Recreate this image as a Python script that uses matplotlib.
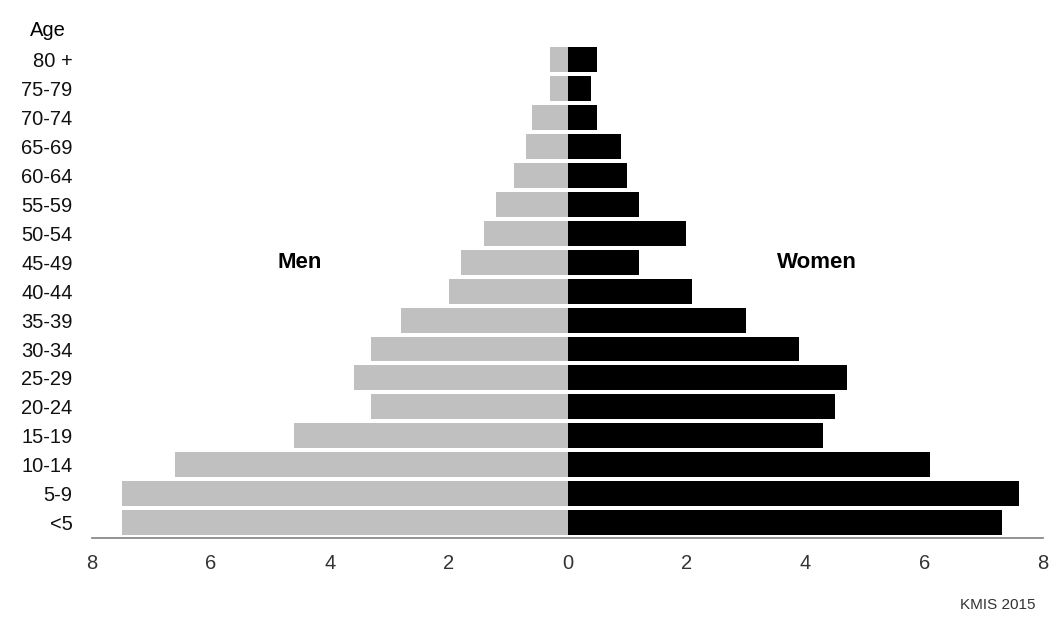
import numpy as np
import matplotlib
matplotlib.use("Agg")
import matplotlib.pyplot as plt

plt.rcParams["font.family"] = ["Liberation Sans", "DejaVu Sans"]

# age groups, bottom to top
age_groups = ["<5", "5-9", "10-14", "15-19", "20-24", "25-29", "30-34", "35-39",
              "40-44", "45-49", "50-54", "55-59", "60-64", "65-69", "70-74",
              "75-79", "80 +"]
men = [7.5, 7.5, 6.6, 4.6, 3.3, 3.6, 3.3, 2.8, 2.0, 1.8, 1.4, 1.2, 0.9, 0.7,
       0.6, 0.3, 0.3]
women = [7.3, 7.6, 6.1, 4.3, 4.5, 4.7, 3.9, 3.0, 2.1, 1.2, 2.0, 1.2, 1.0, 0.9,
         0.5, 0.4, 0.5]
x_ticks = [-8, -6, -4, -2, 0, 2, 4, 6, 8]

fig = plt.figure(figsize=(10.51, 6.18), dpi=100)
ax = fig.add_axes([0.0875, 0.129, 0.905, 0.798])

y = np.arange(len(age_groups))
ax.barh(y, -np.array(men), height=0.86, color="#c0c0c0", edgecolor="none")
ax.barh(y, women, height=0.86, color="black", edgecolor="none")

ax.set_xlim(-8, 8)
ax.set_ylim(-0.54, 16.5)
ax.set_yticks(y)
ax.set_yticklabels(age_groups, fontsize=14.5, color="#111111")
ax.set_xticks(x_ticks)
ax.set_xticklabels([str(abs(t)) for t in x_ticks], fontsize=14.5, color="#333333")
ax.tick_params(axis="both", length=0)
ax.tick_params(axis="x", pad=11)
ax.tick_params(axis="y", pad=14)

for s in ["top", "left", "right"]:
    ax.spines[s].set_visible(False)
ax.spines["bottom"].set_color("#808080")
ax.spines["bottom"].set_linewidth(1.2)

ax.text(-4.5, 9, "Men", fontsize=16, fontweight="bold", ha="center", va="center")
ax.text(4.2, 9, "Women", fontsize=16, fontweight="bold", ha="center", va="center")

fig.text(48 / 1051, 1 - 30 / 618, "Age", fontsize=14.5, ha="center", va="center")
fig.text(1036 / 1051, 1 - 605 / 618, "KMIS 2015", fontsize=11, ha="right",
         va="center", color="#333333")

fig.savefig("out.png", dpi=100)
